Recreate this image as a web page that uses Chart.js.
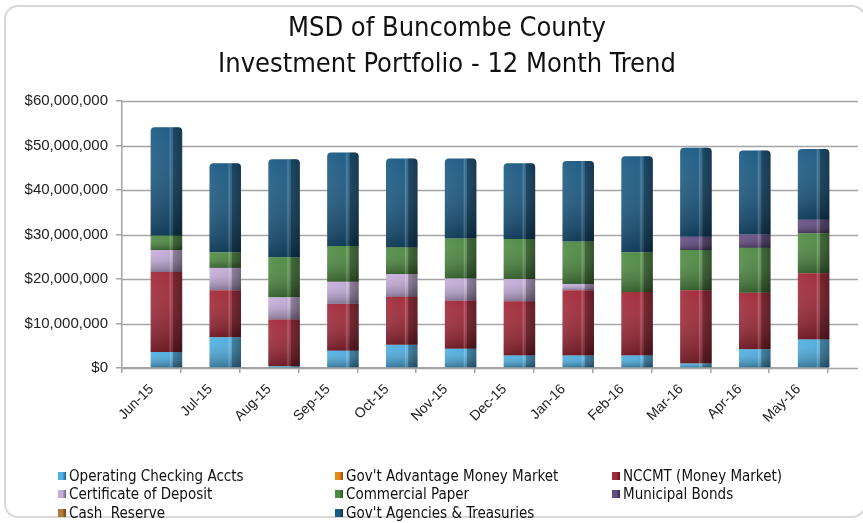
<!DOCTYPE html>
<html><head><meta charset="utf-8">
<script src="https://cdn.jsdelivr.net/npm/chart.js@4.4.0/dist/chart.umd.min.js"></script>
<style>
html,body{margin:0;padding:0;background:#fff;}
#wrap{position:relative;width:863px;height:523px;overflow:hidden;background:#fff;}
#frame{position:absolute;left:4px;top:5px;width:862px;height:513px;border:2px solid #d8d8d8;border-radius:14px;box-sizing:border-box;}
canvas{position:absolute;left:0;top:0;}
#title{position:absolute;left:147px;width:600px;top:9px;text-align:center;font-family:"DejaVu Sans Condensed","DejaVu Sans",sans-serif;font-size:27px;line-height:36px;color:#111;white-space:nowrap;}
#legend{position:absolute;left:0;top:0;width:863px;height:523px;pointer-events:none;font-family:"DejaVu Sans Condensed","DejaVu Sans",sans-serif;font-size:15px;color:#111;}
.li{position:absolute;white-space:pre;display:flex;align-items:center;height:18px;line-height:18px;}
.li .m{width:8px;height:8px;margin-right:3px;display:inline-block;flex:none;}
</style></head>
<body>
<div id="wrap"><div id="frame"></div><canvas id="c" width="863" height="523"></canvas>
<div id="title"><div>MSD of Buncombe County</div><div>Investment Portfolio - 12 Month Trend</div></div>
<div id="legend"></div></div>
<script>
// ---- data (US dollars) ----
const months = ['Jun-15','Jul-15','Aug-15','Sep-15','Oct-15','Nov-15','Dec-15','Jan-16','Feb-16','Mar-16','Apr-16','May-16'];
const operatingChecking   = [3600000,6900000,400000,3900000,5200000,4300000,2800000,2800000,2800000,1000000,4200000,6400000];
const govtAdvantageMM     = [0,0,0,0,0,0,0,0,0,0,0,0];
const nccmt               = [18000000,10600000,10500000,10500000,10800000,10800000,12200000,14700000,14300000,16500000,12700000,14900000];
const certificateDeposit  = [4900000,5000000,5000000,5000000,5100000,5000000,5000000,1400000,0,0,0,0];
const commercialPaper     = [3200000,3500000,9000000,8000000,6000000,9000000,9000000,9500000,8900000,9000000,10100000,9000000];
const municipalBonds      = [0,0,0,0,0,0,0,0,0,3000000,3000000,3000000];
const cashReserve         = [0,0,0,0,0,0,0,0,0,0,0,0];
const govtAgencies        = [24400000,20000000,22000000,21000000,20000000,18000000,17000000,18100000,21600000,20000000,18900000,15900000];
const yTicks = [0,10000000,20000000,30000000,40000000,50000000,60000000];

const seriesNames = ['Operating Checking Accts',"Gov't Advantage Money Market",'NCCMT (Money Market)','Certificate of Deposit','Commercial Paper','Municipal Bonds','Cash  Reserve',"Gov't Agencies & Treasuries"];
const seriesData = [operatingChecking,govtAdvantageMM,nccmt,certificateDeposit,commercialPaper,municipalBonds,cashReserve,govtAgencies];
const seriesColors = ['#4fb0e3','#e8891a','#a32838','#c6aedb','#4f8c43','#644d84','#b27b36','#1a5a84'];

const DEPTH = 15;

function money(v){ return '$' + Number(v).toLocaleString('en-US'); }

const backWall = {
  id:'backWall',
  beforeDatasetsDraw(chart){
    const {ctx, chartArea:a, scales:{y}} = chart;
    ctx.save();
    ctx.strokeStyle = '#a4a4a4';
    ctx.lineWidth = 1.6;
    y.ticks.forEach(t=>{
      const py = Math.round(y.getPixelForValue(t.value)) + 0.5;
      ctx.beginPath(); ctx.moveTo(a.left, py); ctx.lineTo(a.right + 2*DEPTH, py); ctx.stroke();
    });
    ctx.restore();
    ctx.save();
    ctx.translate(DEPTH, 0);
  },
  afterDatasetsDraw(chart){
    const ctx = chart.ctx;
    const n = chart.data.datasets.length;
    chart.data.datasets.forEach((ds, di)=>{
      const meta = chart.getDatasetMeta(di);
      meta.data.forEach((el, i)=>{
        if (!ds.data[i]) return;
        const p = el.getProps(['x','y','base','width'], true);
        const l = p.x - p.width/2, top = Math.min(p.y, p.base), h = Math.abs(p.base - p.y);
        const r = (di === n-1) ? 4 : 0;
        const path = () => { ctx.beginPath(); if (r) ctx.roundRect(l, top, p.width, h, [r, r, 0, 0]); else ctx.rect(l, top, p.width, h); };
        const gv = ctx.createLinearGradient(0, top, 0, top + h);
        gv.addColorStop(0, 'rgba(255,255,255,0.04)');
        gv.addColorStop(1, 'rgba(0,0,0,0.32)');
        path(); ctx.fillStyle = gv; ctx.fill();
        const gh = ctx.createLinearGradient(l, 0, l + p.width, 0);
        gh.addColorStop(0, 'rgba(255,255,255,0.04)');
        gh.addColorStop(0.55, 'rgba(0,0,0,0.02)');
        gh.addColorStop(0.62, 'rgba(255,255,255,0.20)');
        gh.addColorStop(0.67, 'rgba(255,255,255,0.04)');
        gh.addColorStop(0.72, 'rgba(0,0,0,0.28)');
        gh.addColorStop(1, 'rgba(0,0,0,0.42)');
        path(); ctx.fillStyle = gh; ctx.fill();
      });
    });
    ctx.restore();
  }
};

const datasets = seriesNames.map((name, k)=>({
  label: name,
  data: seriesData[k],
  backgroundColor: seriesColors[k],
  borderWidth: 0,
  borderRadius: k === seriesNames.length-1 ? 4 : 0,
  borderSkipped: 'start',
  barPercentage: 0.535,
  categoryPercentage: 1,
  clip: false,
  stack: 's'
}));

const chart = new Chart(document.getElementById('c'), {
  type: 'bar',
  data: { labels: months, datasets },
  options: {
    responsive: false,
    animation: false,
    layout: { padding: { left: 5, right: 35, top: 101, bottom: 95 } },
    plugins: {
      legend: { display: false },
      tooltip: { enabled: false },
      title: { display: false }
    },
    scales: {
      x: {
        stacked: true,
        offset: true,
        grid: { display: true, drawOnChartArea: false, offset: true, tickLength: 5, color: '#a4a4a4', lineWidth: 1.5 },
        border: { display: true, color: '#a4a4a4', width: 1.5 },
        ticks: { color: '#222', font: { family: '"Liberation Sans",Arial,sans-serif', size: 14 }, maxRotation: 45, minRotation: 45, padding: 8 },
        afterFit: s => { s.height = 60; }
      },
      y: {
        stacked: true,
        min: 0, max: 60000000,
        afterBuildTicks: s => { s.ticks = yTicks.map(v => ({ value: v })); },
        grid: { display: true, drawOnChartArea: false, tickLength: 6, color: '#a4a4a4', lineWidth: 1.5 },
        border: { display: true, color: '#a4a4a4', width: 1.5 },
        ticks: { color: '#222', font: { family: '"Liberation Sans",Arial,sans-serif', size: 15 }, padding: 8, callback: v => money(v) },
        afterFit: s => { s.width = 117; }
      }
    }
  },
  plugins: [backWall]
});

// legend (HTML text) built from the chart's datasets, 3 columns row-major
const legendCols = [58, 335, 612];
const legendRows = [467, 485, 503.5];
const lg = document.getElementById('legend');
chart.data.datasets.forEach((ds, k)=>{
  const d = document.createElement('div');
  d.className = 'li';
  d.style.left = legendCols[k % 3] + 'px';
  d.style.top = legendRows[Math.floor(k / 3)] + 'px';
  const m = document.createElement('span');
  m.className = 'm';
  m.style.background = 'linear-gradient(to right,' + ds.backgroundColor + ' 0%,' + ds.backgroundColor + ' 55%, rgba(0,0,0,0.45) 100%),' + ds.backgroundColor;
  d.appendChild(m);
  const t = document.createElement('span');
  t.textContent = ds.label;
  d.appendChild(t);
  lg.appendChild(d);
});
</script>
</body></html>
